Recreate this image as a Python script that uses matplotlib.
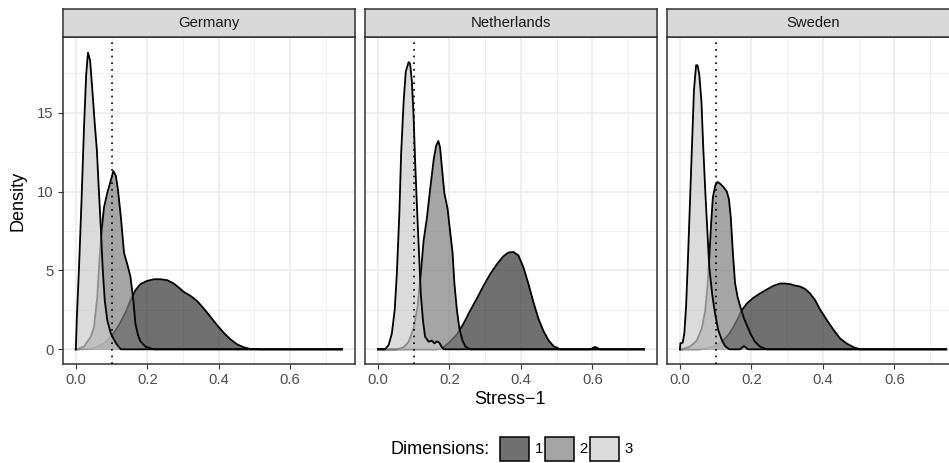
import matplotlib
matplotlib.use("Agg")
import matplotlib.pyplot as plt
from matplotlib.patches import Rectangle

plt.rcParams['font.family'] = ['Liberation Sans', 'DejaVu Sans']

# ======================
# DATA
# ======================
COUNTRIES = ["Germany", "Netherlands", "Sweden"]
DIMS = ["1", "2", "3"]
X_TICKS = [0.0, 0.2, 0.4, 0.6]
X_TICK_LABELS = ["0.0", "0.2", "0.4", "0.6"]
Y_TICKS = [0, 5, 10, 15]
CUTOFF = 0.1

# Germany
GER_X1 = [0.0, 0.042, 0.060, 0.079, 0.098, 0.112, 0.126, 0.140, 0.153, 0.167, 0.181, 0.200,
          0.219, 0.237, 0.256, 0.274, 0.288, 0.302, 0.321, 0.340, 0.358, 0.377, 0.395,
          0.414, 0.433, 0.451, 0.470, 0.488, 0.516, 0.745]
GER_Y1 = [0.0, 0.02, 0.17, 0.38, 0.8, 1.22, 1.75, 2.38, 3.1, 3.75, 4.13, 4.34,
          4.44, 4.44, 4.38, 4.17, 3.92, 3.64, 3.39, 3.05, 2.59, 2.06, 1.54,
          1.05, 0.63, 0.32, 0.13, 0.02, 0.0, 0.0]
GER_X2 = [0.0, 0.005, 0.023, 0.042, 0.051, 0.060, 0.066, 0.072, 0.079, 0.088, 0.098, 0.105,
          0.112, 0.118, 0.126, 0.135, 0.144, 0.153, 0.161, 0.167, 0.174, 0.181, 0.195,
          0.219, 0.745]
GER_Y2 = [0.0, 0.02, 0.17, 0.8, 1.43, 3.3, 5.6, 7.5, 9.0, 9.9, 10.7, 11.3,
          11.0, 10.1, 8.4, 6.1, 5.4, 4.6, 3.1, 1.6, 0.9, 0.5, 0.17,
          0.0, 0.0]
GER_X3 = [0.0, 0.003, 0.009, 0.016, 0.023, 0.029, 0.034, 0.040, 0.047, 0.053, 0.059, 0.064,
          0.070, 0.075, 0.081, 0.088, 0.098, 0.107, 0.116, 0.126, 0.745]
GER_Y3 = [0.0, 2.06, 5.2, 9.4, 14.1, 17.4, 18.8, 18.3, 16.2, 14.3, 12.6, 10.3,
          7.7, 5.2, 3.1, 1.85, 1.0, 0.6, 0.27, 0.0, 0.0]

# Netherlands
NED_X1 = [0.0, 0.165, 0.184, 0.202, 0.221, 0.240, 0.258, 0.277, 0.295, 0.314, 0.333, 0.351,
          0.365, 0.379, 0.393, 0.407, 0.421, 0.435, 0.449, 0.463, 0.477, 0.491, 0.510,
          0.594, 0.608, 0.622, 0.745]
NED_Y1 = [0.0, 0.0, 0.13, 0.48, 0.95, 1.64, 2.44, 3.22, 4.0, 4.76, 5.39, 5.89,
          6.13, 6.17, 5.96, 5.22, 4.17, 3.01, 1.96, 1.18, 0.59, 0.21, 0.0,
          0.0, 0.15, 0.0, 0.0]
NED_X2 = [0.0, 0.053, 0.072, 0.086, 0.100, 0.111, 0.120, 0.128, 0.137, 0.146, 0.156, 0.163,
          0.169, 0.174, 0.180, 0.186, 0.195, 0.202, 0.209, 0.214, 0.221, 0.228, 0.236,
          0.245, 0.258, 0.745]
NED_Y2 = [0.0, 0.0, 0.13, 0.48, 1.33, 2.7, 4.8, 6.9, 8.3, 10.1, 12.0, 12.9,
          13.2, 12.8, 11.3, 9.9, 8.9, 7.5, 6.1, 4.2, 2.5, 1.33, 0.6,
          0.17, 0.0, 0.0]
NED_X3 = [0.0, 0.020, 0.030, 0.039, 0.047, 0.053, 0.060, 0.065, 0.072, 0.078, 0.086, 0.090,
          0.095, 0.100, 0.104, 0.109, 0.115, 0.120, 0.126, 0.132, 0.142, 0.151, 0.158,
          0.165, 0.172, 0.179, 0.185, 0.745]
NED_Y3 = [0.0, 0.0, 0.27, 1.0, 2.5, 4.8, 8.6, 12.4, 15.7, 17.6, 18.2, 18.1,
          17.0, 14.7, 12.0, 9.2, 6.1, 3.5, 1.85, 0.8, 0.48, 0.55, 0.38,
          0.5, 0.42, 0.13, 0.0, 0.0]

# Sweden
SWE_X1 = [0.0, 0.056, 0.075, 0.093, 0.117, 0.135, 0.149, 0.161, 0.173, 0.187, 0.205, 0.224,
          0.243, 0.261, 0.280, 0.294, 0.308, 0.322, 0.336, 0.350, 0.364, 0.378, 0.392,
          0.411, 0.430, 0.448, 0.467, 0.486, 0.504, 0.745]
SWE_Y1 = [0.0, 0.0, 0.06, 0.17, 0.48, 0.9, 1.39, 1.9, 2.48, 2.9, 3.26, 3.54,
          3.79, 4.02, 4.17, 4.17, 4.13, 4.04, 3.98, 3.83, 3.54, 3.12, 2.53,
          1.85, 1.22, 0.69, 0.36, 0.13, 0.0, 0.0]
SWE_X2 = [0.0, 0.005, 0.028, 0.047, 0.061, 0.070, 0.077, 0.082, 0.087, 0.092, 0.099, 0.105,
          0.112, 0.121, 0.131, 0.137, 0.142, 0.148, 0.154, 0.161, 0.170, 0.179, 0.189,
          0.198, 0.210, 0.224, 0.243, 0.745]
SWE_Y2 = [0.0, 0.0, 0.17, 0.55, 1.33, 2.38, 3.96, 5.85, 7.96, 9.64, 10.4, 10.6,
          10.5, 10.3, 10.0, 9.5, 8.4, 6.1, 4.2, 3.33, 2.6, 1.96, 1.43,
          0.95, 0.48, 0.17, 0.0, 0.0]
SWE_X3 = [0.0, 0.001, 0.0075, 0.012, 0.017, 0.022, 0.028, 0.034, 0.039, 0.045, 0.049, 0.054,
          0.060, 0.065, 0.071, 0.077, 0.082, 0.090, 0.098, 0.107, 0.117, 0.126, 0.138,
          0.168, 0.179, 0.190, 0.745]
SWE_Y3 = [0.0, 0.38, 0.42, 1.0, 2.7, 5.6, 9.4, 13.2, 16.4, 18.0, 18.0, 17.4,
          15.7, 12.8, 9.9, 7.3, 5.2, 3.5, 2.27, 1.22, 0.59, 0.21, 0.0,
          0.0, 0.21, 0.0, 0.0]

CURVES = {
    "Germany":     [(GER_X1, GER_Y1), (GER_X2, GER_Y2), (GER_X3, GER_Y3)],
    "Netherlands": [(NED_X1, NED_Y1), (NED_X2, NED_Y2), (NED_X3, NED_Y3)],
    "Sweden":      [(SWE_X1, SWE_Y1), (SWE_X2, SWE_Y2), (SWE_X3, SWE_Y3)],
}

# ======================
# STYLE
# ======================
W, H = 949, 463
FILLS = ["#333333", "#7F7F7F", "#CCCCCC"]   # grey20 / grey50 / grey80
ALPHA = 0.7
BORDER = "#333333"
GRID = "#EBEBEB"
TICK_SIZE = 10.7
TITLE_SIZE = 13


def px_rect(left, top, right, bottom):
    return [left / W, 1 - bottom / H, (right - left) / W, (bottom - top) / H]


fig = plt.figure(figsize=(W / 100, H / 100), dpi=100)
fig.patch.set_facecolor("white")

panel_left = [62.5, 364.6, 666.7]
panel_w = 292.8
panel_top, panel_bottom = 37.0, 364.0
strip_top = 8.7

for i, country in enumerate(COUNTRIES):
    l = panel_left[i]
    ax = fig.add_axes(px_rect(l, panel_top, l + panel_w, panel_bottom))

    for k, (xs, ys) in enumerate(CURVES[country]):
        ax.fill_between(xs, ys, 0, color=FILLS[k], alpha=ALPHA, lw=0, zorder=2 + 2 * k)
        ax.plot(xs, ys, color="black", lw=1.3, zorder=3 + 2 * k)

    ax.axvline(CUTOFF, color="black", lw=1.2, ls=(0, (1, 3)), zorder=10)

    ax.set_xlim(-0.03725, 0.78225)
    ax.set_ylim(-0.93, 19.79)
    ax.set_xticks(X_TICKS)
    ax.set_xticklabels(X_TICK_LABELS)
    ax.set_xticks([0.1, 0.3, 0.5, 0.7], minor=True)
    ax.set_yticks(Y_TICKS)
    ax.set_yticks([2.5, 7.5, 12.5, 17.5], minor=True)
    ax.grid(which="major", color=GRID, lw=1.1)
    ax.grid(which="minor", color=GRID, lw=0.55)
    ax.set_axisbelow(True)

    ax.tick_params(which="major", length=3.75, width=0.8, color=BORDER,
                   labelcolor="#4D4D4D", labelsize=TICK_SIZE, pad=2.9)
    ax.tick_params(which="minor", length=0)
    if i > 0:
        ax.tick_params(axis="y", which="both", left=False, labelleft=False)

    for sp in ax.spines.values():
        sp.set_color(BORDER)
        sp.set_linewidth(1.1)

    # facet strip
    sax = fig.add_axes(px_rect(l, strip_top, l + panel_w, panel_top))
    sax.set_facecolor("#D9D9D9")
    sax.set_xticks([])
    sax.set_yticks([])
    for sp in sax.spines.values():
        sp.set_color(BORDER)
        sp.set_linewidth(1.1)
    sax.text(0.5, 0.5, country, ha="center", va="center", fontsize=TICK_SIZE,
             color="#1A1A1A", transform=sax.transAxes)

# axis titles
fig.text(510 / W, 1 - 399 / H, "Stress\u22121", ha="center", va="center",
         fontsize=TITLE_SIZE, color="black")
fig.text(18 / W, 1 - 200.5 / H, "Density", ha="center", va="center",
         rotation=90, fontsize=TITLE_SIZE, color="black")

# legend
key_left = [500, 545, 590]
key_w, key_top, key_bottom = 28.5, 437, 461
key_mid = (key_top + key_bottom) / 2
fig.text(490 / W, 1 - key_mid / H, "Dimensions:", ha="right", va="center",
         fontsize=TITLE_SIZE, color="black")
for k, d in enumerate(DIMS):
    kl = key_left[k]
    fig.patches.append(Rectangle((kl / W, 1 - key_bottom / H), key_w / W,
                                 (key_bottom - key_top) / H, transform=fig.transFigure,
                                 facecolor=FILLS[k], alpha=ALPHA, edgecolor="none"))
    fig.patches.append(Rectangle((kl / W, 1 - key_bottom / H), key_w / W,
                                 (key_bottom - key_top) / H, transform=fig.transFigure,
                                 facecolor="none", edgecolor="black", lw=1.1))
    fig.text((kl + key_w + 6) / W, 1 - key_mid / H, d, ha="left", va="center",
             fontsize=TICK_SIZE, color="black")

fig.savefig("out.png", dpi=100)
